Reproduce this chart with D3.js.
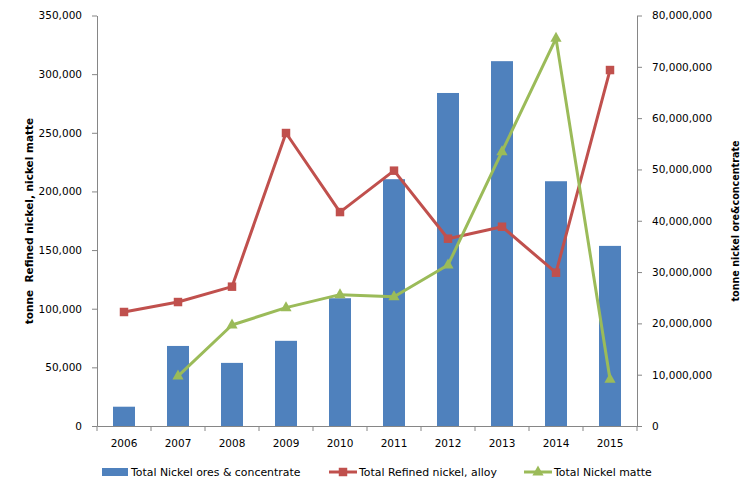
<!DOCTYPE html>
<html><head><meta charset="utf-8">
<script src="https://cdn.jsdelivr.net/npm/d3@7"></script>
<style>body{margin:0;background:#fff}svg{display:block}</style>
</head><body><div id="chart"></div>
<script>
const years = ["2006","2007","2008","2009","2010","2011","2012","2013","2014","2015"];
const oresConcentrate = [3760000,15600000,12300000,16600000,24900000,48100000,64900000,71100000,47700000,35100000];
const refinedAlloy = [97200,105700,118800,249800,182400,217700,159700,169900,130700,303500];
const nickelMatte = [null,42600,86100,100900,112000,110200,137300,233900,330500,39800];
const leftTicks = [0,50000,100000,150000,200000,250000,300000,350000];
const rightTicks = [0,10000000,20000000,30000000,40000000,50000000,60000000,70000000,80000000];
const seriesNames = ["Total Nickel ores & concentrate","Total Refined nickel, alloy","Total Nickel matte"];
const leftTitle = "tonne  Refined nickel, nickel matte";
const rightTitle = "tonne nickel ore&concentrate";

const W=750,H=492;
const m={l:97,r:113,t:15.5,b:66};
const svg=d3.select("#chart").append("svg").attr("width",W).attr("height",H);
const font="DejaVu Sans";
const xc=d3.scaleBand().domain(years).range([m.l,W-m.r]);
const yL=d3.scaleLinear().domain([0,350000]).range([H-m.b,m.t]);
const yR=d3.scaleLinear().domain([0,80000000]).range([H-m.b,m.t]);
const fmt=d3.format(",");
const axisCol="#868686";

// bars
svg.append("g").selectAll("rect").data(oresConcentrate).join("rect")
  .attr("x",(d,i)=>xc(years[i])+xc.bandwidth()/2-11).attr("width",22)
  .attr("y",d=>yR(d)).attr("height",d=>yR(0)-yR(d)).attr("fill","#4f81bd");

// axes
const gL=svg.append("g").attr("transform",`translate(${m.l},0)`)
  .call(d3.axisLeft(yL).tickValues(leftTicks).tickFormat(fmt).tickSize(5).tickSizeOuter(0));
const gR=svg.append("g").attr("transform",`translate(${W-m.r},0)`)
  .call(d3.axisRight(yR).tickValues(rightTicks).tickFormat(fmt).tickSize(5).tickSizeOuter(0));
const gX=svg.append("g").attr("transform",`translate(0,${H-m.b})`)
  .call(d3.axisBottom(xc).tickSize(0).tickSizeOuter(0));
gX.selectAll(".tick line").remove();
gX.append("g").selectAll("line").data(d3.range(years.length+1)).join("line")
  .attr("x1",i=>m.l+i*xc.step()).attr("x2",i=>m.l+i*xc.step()).attr("y1",0).attr("y2",5)
  .attr("stroke",axisCol);
[gL,gR,gX].forEach(g=>{
  g.selectAll(".domain").attr("stroke",axisCol);
  g.selectAll(".tick line").attr("stroke",axisCol);
  g.selectAll("text").attr("font-family",font).attr("font-size","10.5px").attr("fill","#000");
});
gL.selectAll(".tick text").attr("x",-15);
gR.selectAll(".tick text").attr("x",15);
gX.selectAll(".tick text").attr("dy","0").attr("y",21);

// lines
function drawLine(data,color,shape){
  const pts=data.map((d,i)=>({x:xc(years[i])+xc.bandwidth()/2,y:d==null?null:yL(d)})).filter(p=>p.y!=null);
  svg.append("path").datum(pts).attr("fill","none").attr("stroke",color).attr("stroke-width",3)
    .attr("stroke-linejoin","round")
    .attr("d",d3.line().x(p=>p.x).y(p=>p.y));
  svg.append("g").selectAll("path").data(pts).join("path")
    .attr("transform",p=>`translate(${p.x},${p.y})`)
    .attr("d",shape).attr("fill",color);
}
const sq=d3.symbol().type(d3.symbolSquare).size(72)();
const tri="M0,-6.5L5.6,3.5L-5.6,3.5Z";
drawLine(refinedAlloy,"#c0504d",sq);
drawLine(nickelMatte,"#9bbb59",tri);

// titles
svg.append("text").attr("transform",`translate(33,221) rotate(-90)`).attr("text-anchor","middle")
  .attr("font-family",font).attr("font-weight","bold").attr("font-size","10.5px").attr("xml:space","preserve").text(leftTitle);
svg.append("text").attr("transform",`translate(739,221) rotate(-90)`).attr("text-anchor","middle")
  .attr("font-family",font).attr("font-weight","bold").attr("font-size","9.6px").text(rightTitle);

// legend
const ly=472;
const leg=svg.append("g").attr("font-family",font).attr("font-size","10.9px");
leg.append("rect").attr("x",102).attr("y",ly-4).attr("width",26).attr("height",8).attr("fill","#4f81bd");
leg.append("text").attr("x",131).attr("y",ly+4).text(seriesNames[0]);
leg.append("line").attr("x1",329).attr("x2",357).attr("y1",ly).attr("y2",ly).attr("stroke","#c0504d").attr("stroke-width",3);
leg.append("path").attr("transform",`translate(343,${ly})`).attr("d",sq).attr("fill","#c0504d");
leg.append("text").attr("x",359).attr("y",ly+4).text(seriesNames[1]);
leg.append("line").attr("x1",524).attr("x2",552).attr("y1",ly).attr("y2",ly).attr("stroke","#9bbb59").attr("stroke-width",3);
leg.append("path").attr("transform",`translate(538,${ly})`).attr("d",tri).attr("fill","#9bbb59");
leg.append("text").attr("x",554).attr("y",ly+4).text(seriesNames[2]);
</script></body></html>
